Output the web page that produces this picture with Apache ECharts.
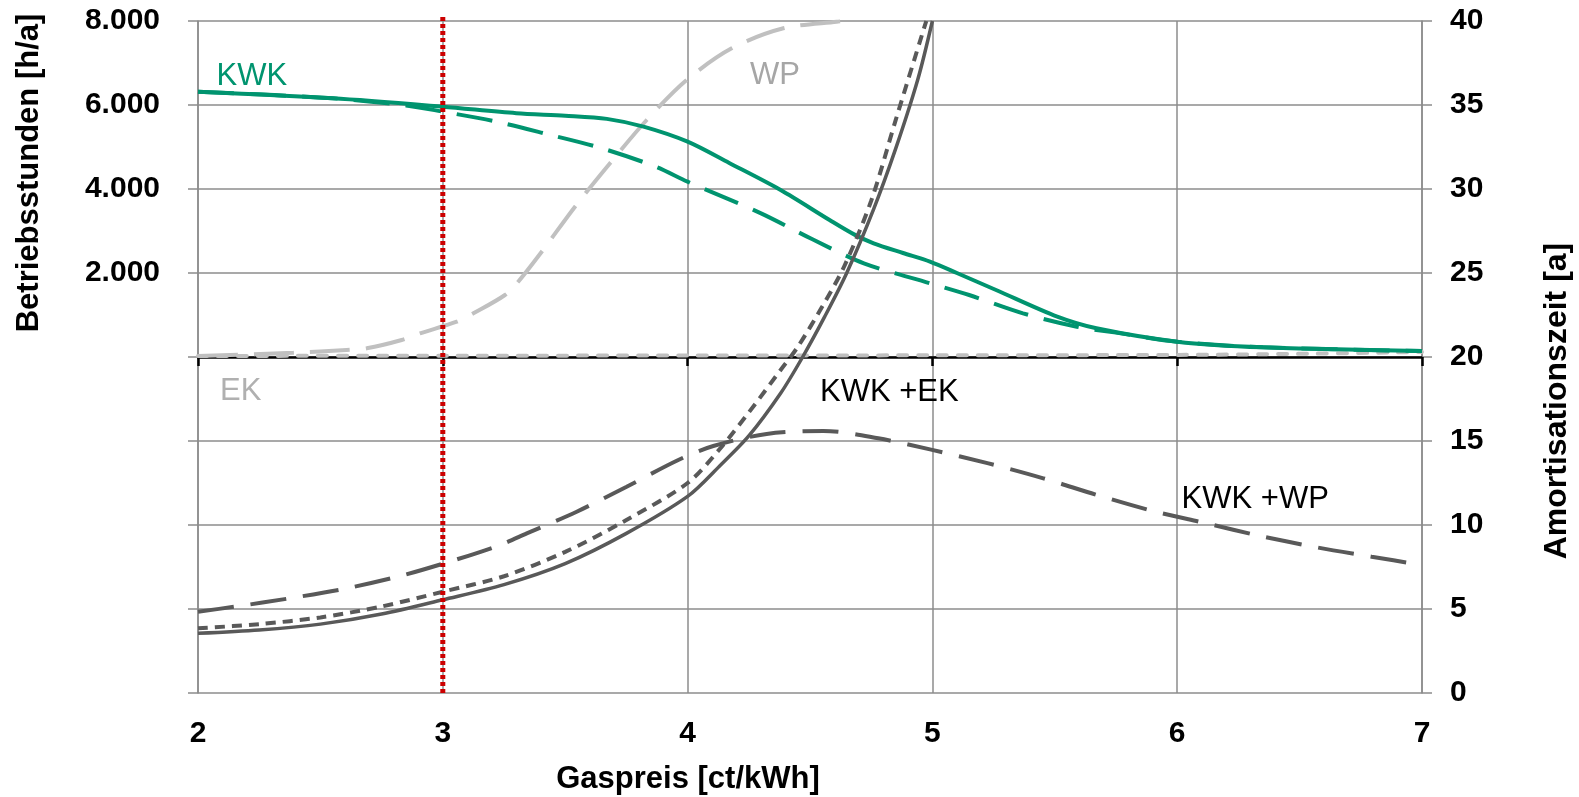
<!DOCTYPE html>
<html>
<head>
<meta charset="utf-8">
<script src="https://cdn.jsdelivr.net/npm/echarts@6/dist/echarts.min.js"></script>
<style>
html,body{margin:0;padding:0;background:#fff;}
#chart{width:1579px;height:797px;}
</style>
</head>
<body>
<div id="chart"></div>
<script>
// ---- Data ----
const gasPriceMin = 2, gasPriceMax = 7;          // x axis [ct/kWh]
const hoursTicks = [2000, 4000, 6000, 8000];       // left axis labels [h/a]
const amortTicks = [0, 5, 10, 15, 20, 25, 30, 35, 40]; // right axis labels [a]
const referencePrice = 3;                          // red dotted line
const referenceLineY = [0, 40.35];                 // red line spans the whole plot height [a]

// Betriebsstunden (left axis)
const kwkSolidX = [2.0, 2.55, 3.0, 3.3, 3.5, 3.67, 3.82, 4.0, 4.17, 4.38, 4.58, 4.68, 4.76, 4.88, 4.99, 5.1, 5.26, 5.51, 5.67, 6.0, 6.35, 7.0];
const kwkSolidY = [6317, 6160, 5960, 5805, 5745, 5670, 5484, 5126, 4619, 3976, 3262, 2920, 2707, 2476, 2270, 2000, 1595, 960, 683, 365, 230, 143];

const kwkDashX = [2.0, 2.55, 2.85, 3.0, 3.22, 3.44, 3.65, 3.87, 4.0, 4.3, 4.51, 4.72, 4.99, 5.15, 5.37, 5.59, 5.75, 6.0, 6.35, 7.0];
const kwkDashY = [6317, 6160, 5990, 5841, 5603, 5286, 4969, 4531, 4174, 3421, 2802, 2231, 1755, 1476, 1040, 721, 580, 365, 230, 143];

const wpX = [2.0, 2.39, 2.607, 2.689, 2.832, 2.907, 3.057, 3.125, 3.254, 3.308, 3.404, 3.54, 3.683, 3.833, 3.996, 4.18, 4.391, 4.609, 4.65];
const wpY = [24, 102, 167, 207, 405, 564, 840, 1040, 1476, 1793, 2507, 3579, 4612, 5643, 6595, 7350, 7826, 7984, 8000];

const ekX = [2.0, 3.0, 4.0, 5.0, 6.0, 6.5, 7.0];
const ekY = [25, 30, 35, 40, 50, 75, 120];

// Amortisationszeit (right axis)
const kwkEkSolidX = [2.0, 2.25, 2.5, 2.75, 3.0, 3.25, 3.5, 3.75, 4.0, 4.13, 4.25, 4.38, 4.47, 4.56, 4.65, 4.76, 4.85, 4.94, 5.0];
const kwkEkSolidY = [3.55, 3.75, 4.1, 4.7, 5.55, 6.45, 7.7, 9.5, 11.7, 13.5, 15.3, 17.84, 20.0, 22.4, 25.0, 28.8, 32.4, 36.5, 40];

const kwkEkDashX = [2.0, 2.25, 2.5, 2.75, 3.0, 3.25, 3.5, 3.75, 4.0, 4.13, 4.25, 4.38, 4.45, 4.55, 4.64, 4.75, 4.85, 4.96, 4.975];
const kwkEkDashY = [3.85, 4.1, 4.5, 5.15, 6.03, 6.95, 8.4, 10.3, 12.5, 14.5, 16.7, 19.23, 20.6, 23.0, 25.4, 29.3, 34.1, 39.3, 40];

const kwkWpX = [2.0, 2.151, 2.376, 2.607, 2.825, 3.05, 3.234, 3.343, 3.547, 3.751, 3.962, 4.105, 4.323, 4.555, 4.779, 4.99, 5.229, 5.453, 5.671, 5.896, 6.12, 6.338, 6.57, 6.794, 7.0];
const kwkWpY = [4.84, 5.14, 5.64, 6.23, 6.96, 7.92, 8.81, 9.5, 10.79, 12.28, 13.87, 14.7, 15.42, 15.6, 15.16, 14.5, 13.67, 12.78, 11.79, 10.85, 10.1, 9.35, 8.67, 8.11, 7.62];

// ---- helpers ----
const pairs = (xs, ys) => xs.map((x, i) => [x, ys[i]]);
const FONT = 'Liberation Sans, Arial, sans-serif';
const GRID_GRAY = '#8c8c8c';
const GREEN = '#00946f';
const DARK = '#595959';
const LIGHT = '#c0c0c0';
const SMOOTH = 0.3;
const fmtThousands = v => String(v).replace(/\B(?=(\d{3})+(?!\d))/g, '.');

function textLabel(name, coord, color) {
  return {
    symbol: 'circle', symbolSize: 0, silent: true,
    data: [{ name: name, coord: coord }],
    label: {
      show: true, position: 'right', distance: 0,
      formatter: name, color: color,
      fontFamily: FONT, fontSize: 31, fontWeight: 'normal'
    },
    itemStyle: { color: 'transparent' }
  };
}

const chart = echarts.init(document.getElementById('chart'), null, { renderer: 'canvas' });

const option = {
  animation: false,
  backgroundColor: '#ffffff',
  grid: { left: 198, right: 157, top: 21, bottom: 104, containLabel: false },
  xAxis: [
    {
      type: 'value', min: gasPriceMin, max: gasPriceMax, interval: 1, position: 'bottom',
      axisLine: { show: true, onZero: true, onZeroAxisIndex: 0, lineStyle: { color: '#000', width: 2.5 } },
      axisTick: { show: true, inside: false, length: 9, lineStyle: { color: '#000', width: 2.5 } },
      axisLabel: { show: false },
      splitLine: { show: true, lineStyle: { color: GRID_GRAY, width: 1.5 } }
    },
    {
      type: 'value', min: gasPriceMin, max: gasPriceMax, interval: 1, position: 'bottom',
      axisLine: { show: false, onZero: false },
      axisTick: { show: false },
      splitLine: { show: false },
      axisLabel: { show: true, margin: 26, color: '#000', fontFamily: FONT, fontSize: 30, fontWeight: 'bold' }
    }
  ],
  yAxis: [
    {
      type: 'value', min: -8000, max: 8000, interval: 2000, position: 'left',
      axisLine: { show: true, onZero: false, lineStyle: { color: GRID_GRAY, width: 1.5 } },
      axisTick: { show: true, inside: false, length: 10, lineStyle: { color: GRID_GRAY, width: 1.5 } },
      axisLabel: {
        margin: 38, color: '#000', fontFamily: FONT, fontSize: 30, fontWeight: 'bold',
        formatter: v => hoursTicks.indexOf(v) >= 0 ? fmtThousands(v) : ''
      },
      splitLine: { show: true, lineStyle: { color: GRID_GRAY, width: 1.5 } }
    },
    {
      type: 'value', min: amortTicks[0], max: amortTicks[amortTicks.length - 1], interval: 5, position: 'right',
      axisLine: { show: true, onZero: false, lineStyle: { color: GRID_GRAY, width: 1.5 } },
      axisTick: { show: true, inside: false, length: 10, lineStyle: { color: GRID_GRAY, width: 1.5 } },
      axisLabel: { margin: 28, color: '#000', fontFamily: FONT, fontSize: 30, fontWeight: 'bold' },
      splitLine: { show: false }
    }
  ],
  graphic: [
    { type: 'text', x: 29, y: 173, rotation: Math.PI / 2,
      style: { text: 'Betriebsstunden [h/a]', font: 'bold 31px ' + FONT, fill: '#000', align: 'center', verticalAlign: 'middle' } },
    { type: 'text', x: 1557, y: 401, rotation: Math.PI / 2,
      style: { text: 'Amortisationszeit [a]', font: 'bold 32px ' + FONT, fill: '#000', align: 'center', verticalAlign: 'middle' } },
    { type: 'text', x: 688, y: 779,
      style: { text: 'Gaspreis [ct/kWh]', font: 'bold 31px ' + FONT, fill: '#000', align: 'center', verticalAlign: 'middle' } }
  ],
  series: [
    {
      name: 'EK', type: 'line', xAxisIndex: 0, yAxisIndex: 0, showSymbol: false, smooth: SMOOTH,
      data: pairs(ekX, ekY),
      lineStyle: { color: LIGHT, width: 4, type: [9, 11], cap: 'round' },
      markPoint: textLabel('EK', [2.09, -810], '#b0b0b0')
    },
    {
      name: 'WP', type: 'line', xAxisIndex: 0, yAxisIndex: 0, showSymbol: false, smooth: SMOOTH,
      data: pairs(wpX, wpY),
      lineStyle: { color: LIGHT, width: 4, type: [40, 16] },
      markPoint: textLabel('WP', [4.255, 6698], '#a6a6a6')
    },
    {
      name: 'KWK gestrichelt', type: 'line', xAxisIndex: 0, yAxisIndex: 0, showSymbol: false, smooth: SMOOTH,
      data: pairs(kwkDashX, kwkDashY),
      lineStyle: { color: GREEN, width: 4, type: [36, 16] }
    },
    {
      name: 'KWK', type: 'line', xAxisIndex: 0, yAxisIndex: 0, showSymbol: false, smooth: SMOOTH,
      data: pairs(kwkSolidX, kwkSolidY),
      lineStyle: { color: GREEN, width: 4 },
      markPoint: textLabel('KWK', [2.076, 6690], GREEN)
    },
    {
      name: 'KWK +EK', type: 'line', xAxisIndex: 0, yAxisIndex: 1, showSymbol: false, smooth: SMOOTH,
      data: pairs(kwkEkSolidX, kwkEkSolidY),
      lineStyle: { color: DARK, width: 3.5 },
      markPoint: textLabel('KWK +EK', [4.541, 17.86], '#000')
    },
    {
      name: 'KWK +EK gestrichelt', type: 'line', xAxisIndex: 0, yAxisIndex: 1, showSymbol: false, smooth: SMOOTH,
      data: pairs(kwkEkDashX, kwkEkDashY),
      lineStyle: { color: DARK, width: 4, type: [10, 7] }
    },
    {
      name: 'KWK +WP', type: 'line', xAxisIndex: 0, yAxisIndex: 1, showSymbol: false, smooth: SMOOTH,
      data: pairs(kwkWpX, kwkWpY),
      lineStyle: { color: DARK, width: 4, type: [36, 17] },
      markPoint: textLabel('KWK +WP', [6.018, 11.52], '#000')
    },
    {
      name: 'Referenz', type: 'line', xAxisIndex: 0, yAxisIndex: 1, showSymbol: false, clip: false, z: 10,
      silent: true,
      data: referenceLineY.map(y => [referencePrice, y]),
      lineStyle: { color: '#cc0000', width: 5, type: [4, 3], cap: 'butt' }
    }
  ]
};

chart.setOption(option);
</script>
</body>
</html>
